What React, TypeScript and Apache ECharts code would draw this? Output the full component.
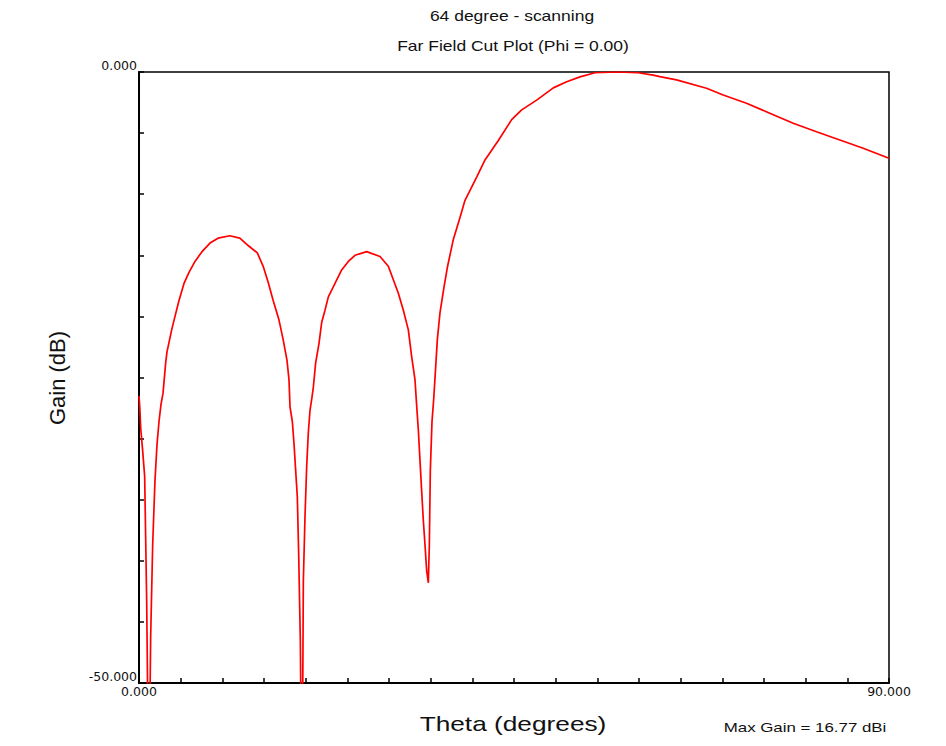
import React, { useEffect, useRef } from 'react';
import * as echarts from 'echarts';

// Theta (degrees) and gain (dB)
const thetaDeg = [
  0, 0.1, 0.2, 0.44, 0.68, 0.92, 1.18, 1.4, 1.64, 1.92, 2.16, 2.4, 2.64, 2.88,
  3.2, 3.36, 3.92, 4.32, 4.8, 5.4, 6.0, 6.72, 7.56, 8.52, 9.48, 10.9, 12.1, 13.1,
  14.2, 14.9, 15.5, 16.1, 16.8, 17.3, 17.76, 18.0, 18.12, 18.4, 18.6, 18.8, 19.0,
  19.16, 19.36, 19.56, 19.72, 19.92, 20.12, 20.32, 20.52, 20.72, 20.92, 21.2, 21.6,
  21.92, 22.32, 22.72, 23.52, 24.32, 25.12, 25.92, 27.32, 28.92, 29.92, 30.52, 31.12,
  31.72, 32.32, 32.72, 33.12, 33.3, 33.52, 33.72, 33.92, 34.12, 34.32, 34.52, 34.72,
  34.84, 34.96, 35.16, 35.36, 35.56, 35.8, 36.12, 36.6, 37.0, 37.72, 38.52, 39.12,
  40.52, 41.52, 43.12, 44.72, 45.92, 47.72, 49.72, 51.32, 52.92, 54.72, 57.4, 59.9,
  61.7, 62.5, 64.5, 68.1, 70.1, 72.9, 75.7, 78.5, 81.3, 84.1, 86.9, 90,
];
const gainDb = [
  -26.5, -27.5, -29.1, -31.0, -33.1, -43.2, -60, -46.2, -38.7, -33.4, -30.5, -28.6, -27.2, -26.3,
  -23.8, -22.9, -21.1, -20.0, -18.7, -17.3, -16.4, -15.5, -14.7, -14.0, -13.6, -13.4, -13.6, -14.2,
  -14.8, -15.9, -17.2, -18.7, -20.3, -21.9, -23.6, -25.2, -27.4, -28.6, -30.4, -32.6, -34.8,
  -39.4, -46.5, -62, -41.7, -36.4, -32.3, -29.5, -27.7, -26.8, -25.8, -23.8, -22.2,
  -20.5, -19.5, -18.4, -17.3, -16.2, -15.5, -15.0, -14.7, -15.1, -15.9, -17.0, -18.1,
  -19.5, -21.1, -23.3, -25.2, -27.1, -29.3, -31.8, -34.3, -36.7, -38.7, -40.8, -41.8,
  -38.7, -32.6, -28.6, -26.8, -24.6, -21.9, -19.7, -17.6, -16.0, -13.7, -11.9, -10.5,
  -8.6, -7.2, -5.6, -3.9, -3.1, -2.3, -1.3, -0.8, -0.4, -0.06, 0, -0.06,
  -0.25, -0.38, -0.65, -1.33, -1.88, -2.56, -3.38, -4.2, -4.89, -5.56, -6.24, -7.06,
];

const xRange = [0, 90];
const yRange = [-50, 0];
const xTickLabels = ['0.000', '90.000'];
const yTickLabels = ['-50.000', '0.000'];
const titleText = '64 degree - scanning';
const subtitleText = 'Far Field Cut Plot (Phi = 0.00)';
const xName = 'Theta (degrees)';
const yName = 'Gain (dB)';
const noteText = 'Max Gain = 16.77 dBi';

export default function App() {
  const ref = useRef<HTMLDivElement>(null);
  useEffect(() => {
    const chart = echarts.init(ref.current as HTMLDivElement, null, { renderer: 'svg' });
    const font = '"Liberation Sans", Arial, sans-serif';
    const tickFont = '"DejaVu Sans", sans-serif';
    const sx = 1.25;
    chart.setOption({
      animation: false,
      backgroundColor: '#ffffff',
      grid: {
        left: 139, right: 57, top: 72, bottom: 63,
        show: true, borderColor: '#000', borderWidth: 1.5, backgroundColor: 'transparent',
      },
      xAxis: {
        type: 'value', min: xRange[0], max: xRange[1], interval: 5, position: 'bottom',
        axisLine: { show: true, onZero: false, lineStyle: { color: '#000', width: 2 } },
        axisTick: { show: true, inside: true, length: 5, lineStyle: { color: '#000', width: 1.5 } },
        splitLine: { show: false },
        axisLabel: {
          margin: 2, fontFamily: tickFont, fontSize: 12.5, color: '#111',
          showMinLabel: true, showMaxLabel: true,
          formatter: (v: number) => (v === xRange[0] ? xTickLabels[0] : v === xRange[1] ? xTickLabels[1] : ''),
        },
      },
      yAxis: {
        type: 'value', min: yRange[0], max: yRange[1], interval: 5, position: 'left',
        axisLine: { show: true, onZero: false, lineStyle: { color: '#000', width: 2 } },
        axisTick: { show: true, inside: true, length: 5, lineStyle: { color: '#000', width: 1.5 } },
        splitLine: { show: false },
        axisLabel: {
          margin: 2, fontFamily: tickFont, fontSize: 12.5, color: '#111', verticalAlign: 'bottom',
          showMinLabel: true, showMaxLabel: true,
          formatter: (v: number) => (v === yRange[0] ? yTickLabels[0] : v === yRange[1] ? yTickLabels[1] : ''),
        },
      },
      series: [
        {
          type: 'line',
          data: thetaDeg.map((t, i) => [t, gainDb[i]]),
          symbol: 'none',
          showSymbol: false,
          clip: true,
          lineStyle: { color: '#ff0000', width: 1.7 },
        },
      ],
      graphic: [
        { type: 'text', x: 512, y: 16, scaleX: sx, style: { text: titleText, font: `14px ${font}`, fill: '#111', align: 'center', verticalAlign: 'middle' } },
        { type: 'text', x: 513, y: 46, scaleX: sx, style: { text: subtitleText, font: `14px ${font}`, fill: '#111', align: 'center', verticalAlign: 'middle' } },
        { type: 'text', x: 513, y: 723, scaleX: sx, style: { text: xName, font: `21px ${font}`, fill: '#111', align: 'center', verticalAlign: 'middle' } },
        { type: 'text', x: 57, y: 378, rotation: Math.PI / 2, style: { text: yName, font: `22px ${font}`, fill: '#111', align: 'center', verticalAlign: 'middle' } },
        { type: 'text', x: 805, y: 727, scaleX: sx, style: { text: noteText, font: `13.5px ${font}`, fill: '#111', align: 'center', verticalAlign: 'middle' } },
      ],
    });
    return () => chart.dispose();
  }, []);
  return <div ref={ref} style={{ position: 'fixed', left: 0, top: 0, width: 946, height: 746 }} />;
}
